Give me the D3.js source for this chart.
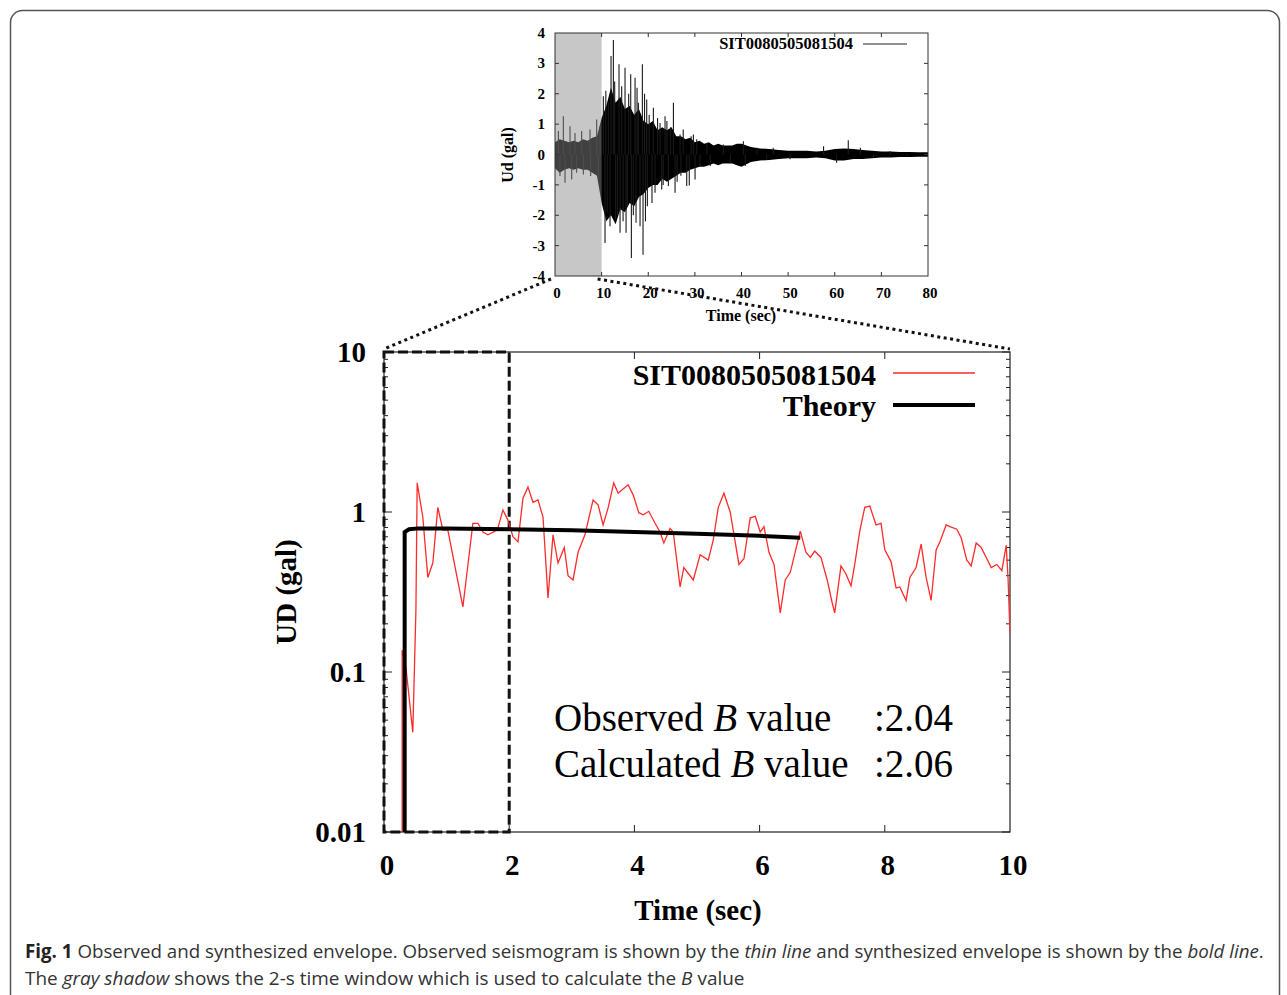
<!DOCTYPE html>
<html>
<head>
<meta charset="utf-8">
<style>
body { margin: 0; background: #fff; }
svg text { font-family: "Liberation Serif", "Times New Roman", serif; }
.cap { font-family: "Open Sans", sans-serif; }
</style>
</head>
<body>
<script src="https://d3js.org/d3.v7.min.js"></script>
<script>
// ---- main envelope chart data (log scale) ----
var obsTime = [0.29,0.29,0.35,0.46,0.51,0.53,0.62,0.70,0.78,0.86,
  0.94,1.02,1.26,1.42,1.50,1.58,1.66,1.81,1.90,1.98,
  2.06,2.14,2.22,2.30,2.38,2.46,2.54,2.62,2.70,2.78,
  2.88,2.94,3.02,3.10,3.21,3.34,3.42,3.50,3.58,3.67,
  3.74,3.90,3.98,4.07,4.14,4.23,4.33,4.41,4.47,4.57,
  4.62,4.73,4.79,4.94,5.05,5.18,5.26,5.34,5.43,5.53,
  5.67,5.75,5.85,5.93,6.01,6.07,6.15,6.23,6.33,6.41,
  6.49,6.65,6.74,6.81,6.88,6.98,7.08,7.16,7.20,7.30,
  7.38,7.46,7.52,7.60,7.68,7.76,7.86,7.94,8.00,8.10,
  8.18,8.24,8.34,8.40,8.50,8.58,8.66,8.74,8.82,8.88,
  8.98,9.04,9.15,9.22,9.31,9.38,9.46,9.54,9.62,9.70,
  9.79,9.87,9.94,9.97,10.0];
var obsAmp = [0.01,0.137,0.107,0.042,0.244,1.52,0.93,0.39,0.48,1.07,
  0.77,0.77,0.255,0.85,0.85,0.75,0.72,0.77,1.03,0.89,
  0.70,0.65,1.22,1.43,1.15,1.19,0.93,0.29,0.72,0.48,
  0.60,0.40,0.376,0.56,0.72,1.19,1.11,0.83,1.06,1.52,
  1.31,1.48,1.28,0.99,0.96,1.01,0.85,0.75,0.64,0.79,
  0.75,0.34,0.45,0.376,0.54,0.50,0.67,1.07,1.31,1.0,
  0.47,0.51,0.92,0.94,0.75,0.81,0.56,0.47,0.234,0.376,
  0.42,0.76,0.56,0.52,0.57,0.52,0.376,0.27,0.234,0.46,
  0.41,0.345,0.47,0.76,1.07,1.09,0.83,0.85,0.58,0.49,
  0.335,0.34,0.28,0.39,0.45,0.63,0.39,0.28,0.58,0.65,
  0.83,0.81,0.78,0.69,0.50,0.46,0.64,0.60,0.52,0.45,
  0.47,0.43,0.62,0.376,0.175];

var theoryTime = [0.33,0.33,0.40,0.55,1,2,3,4,5,6,6.65];
var theoryAmp  = [0.01,0.75,0.78,0.79,0.79,0.78,0.77,0.75,0.73,0.71,0.69];

var mainXTicks = [0,2,4,6,8,10];
var mainYTicks = [0.01,0.1,1,10];
var mainYLabels = ["0.01","0.1","1","10"];
var windowSec = [0,2];

// ---- seismogram (top) data ----
var coreTime  = [0,1,2,3,4,5,6,7,8,9,10,11,12,13,14,15,16,17,18,19,20,
  21,22,23,24,25,26,27,28,29,30,31,32,33,34,35,36,37,38,39,40,
  42,44,46,48,50,52,54,56,58,60,62,64,66,68,70,72,74,76,78,80];
var coreUpper = [0.4,0.5,0.45,0.4,0.45,0.4,0.5,0.45,0.55,0.6,1.2,1.6,2.2,1.7,1.9,1.5,1.6,1.3,1.5,1.1,1.0,
  1.1,0.8,0.9,0.8,0.9,0.6,0.6,0.5,0.55,0.4,0.45,0.35,0.4,0.3,0.35,0.3,0.3,0.3,0.35,0.35,
  0.25,0.2,0.18,0.15,0.12,0.12,0.12,0.1,0.12,0.18,0.2,0.18,0.15,0.12,0.1,0.1,0.08,0.08,0.07,0.07];
var coreLower = [-0.45,-0.6,-0.5,-0.45,-0.5,-0.45,-0.5,-0.5,-0.6,-0.7,-1.6,-2.2,-2.0,-2.3,-1.8,-1.9,-1.6,-1.7,-1.4,-1.3,-1.1,
  -1.0,-1.0,-0.8,-0.9,-0.8,-0.7,-0.6,-0.6,-0.5,-0.45,-0.4,-0.4,-0.35,-0.3,-0.35,-0.3,-0.3,-0.3,-0.35,-0.4,
  -0.25,-0.2,-0.18,-0.15,-0.12,-0.12,-0.12,-0.1,-0.12,-0.2,-0.2,-0.15,-0.15,-0.12,-0.1,-0.1,-0.08,-0.08,-0.07,-0.07];
var spikeTime = [0.72,1.07,1.79,2.15,3.22,3.58,4.29,4.65,5.72,6.08,7.51,7.65,8.94,9.3,9.66,
  10.37,10.73,10.9,11.2,11.44,11.8,12.02,12.52,12.8,13.02,13.4,13.73,13.95,14.3,14.6,15.02,15.24,15.52,15.8,
  16.24,16.38,16.8,17.17,17.38,17.6,17.88,18.24,18.74,18.88,19.2,19.4,19.67,19.81,20.2,20.8,
  21.1,21.46,22.0,22.53,22.89,23.2,23.6,24.0,24.32,24.8,25.4,25.75,26.2,26.82,27.0,27.5,28.25,28.8,29.2,29.68,
  30.04,30.4,31.1,32.6,33.3,36.1,37.6,40.4,40.8,43.3,45.4,46.8,50.4,57.6,60.4,62.9,65.5,68.3,71.9,75.5];
var spikeAmp = [0.77,-0.71,1.26,-0.93,0.93,-0.82,0.71,-0.6,0.77,-0.66,0.82,-0.71,1.15,-0.82,0.93,
  1.92,-2.91,2.1,-1.9,1.7,-2.36,3.24,3.77,2.4,-2.14,-2.0,2.97,-2.58,2.25,-2.2,2.86,-2.58,-1.7,2.0,
  2.64,-3.41,-2.0,2.53,-2.25,2.2,1.7,-2.36,2.97,-3.3,2.0,-2.2,1.81,-1.7,1.3,-1.6,
  1.54,-1.26,1.2,1.04,-1.15,-1.0,1.26,1.1,-1.04,0.9,1.7,-1.26,-0.9,0.66,-0.7,0.82,-1.04,-1.02,0.6,0.66,
  -0.82,0.5,-0.38,0.38,-0.38,0.33,-0.27,0.44,-0.38,0.22,-0.16,0.22,-0.16,0.27,-0.27,0.47,0.22,-0.11,0.11,-0.05];
var topXTicks = [0,10,20,30,40,50,60,70,80];
var topYTicks = [-4,-3,-2,-1,0,1,2,3,4];
var shadeSec = [0,10];

var stationName = "SIT0080505081504";

var W = 1287, H = 995;
var svg = d3.select("body").append("svg").attr("width", W).attr("height", H);

// card frame
svg.append("rect").attr("x", 10.5).attr("y", 10.5).attr("width", 1269).attr("height", 1010)
  .attr("rx", 12).style("fill", "none").style("stroke", "#555").style("stroke-width", 1.5);

// ================= TOP CHART =================
var xs = d3.scaleLinear().domain([0, 80]).range([555, 928]);
var ys = d3.scaleLinear().domain([-4, 4]).range([276, 33]);
var tp = svg.append("g");

tp.append("clipPath").attr("id", "clipTop").append("rect")
  .attr("x", xs(0)).attr("y", ys(4)).attr("width", xs(80) - xs(0)).attr("height", ys(-4) - ys(4));

var tg = tp.append("g").attr("clip-path", "url(#clipTop)");
var core = coreTime.map(function(t, i){ return [t, coreUpper[i], coreLower[i]]; });
tg.append("path").datum(core)
  .attr("d", d3.area().x(function(d){ return xs(d[0]); }).y0(function(d){ return ys(d[2]); }).y1(function(d){ return ys(d[1]); }))
  .style("fill", "#000");
tg.selectAll(".spike").data(spikeTime).enter().append("line")
  .attr("class", "spike")
  .attr("x1", function(d){ return xs(d); }).attr("x2", function(d){ return xs(d); })
  .attr("y1", ys(0)).attr("y2", function(d, i){ return ys(spikeAmp[i]); })
  .style("stroke", "#1a1a1a").style("stroke-width", 1.1);
// gray shadow (2-s window marker on top panel)
tg.append("rect").attr("x", xs(shadeSec[0])).attr("y", ys(4))
  .attr("width", xs(shadeSec[1]) - xs(shadeSec[0])).attr("height", ys(-4) - ys(4))
  .style("fill", "#898989").style("opacity", 0.47);

tp.append("rect").attr("x", xs(0)).attr("y", ys(4)).attr("width", xs(80) - xs(0)).attr("height", ys(-4) - ys(4))
  .style("fill", "none").style("stroke", "#333").style("stroke-width", 1);

// ticks inside
topXTicks.slice(1, -1).forEach(function(t){
  tp.append("line").attr("x1", xs(t)).attr("x2", xs(t)).attr("y1", ys(4)).attr("y2", ys(4) + 4).style("stroke", "#333");
  tp.append("line").attr("x1", xs(t)).attr("x2", xs(t)).attr("y1", ys(-4)).attr("y2", ys(-4) - 4).style("stroke", "#333");
});
topYTicks.slice(1, -1).forEach(function(v){
  tp.append("line").attr("x1", xs(0)).attr("x2", xs(0) + 4).attr("y1", ys(v)).attr("y2", ys(v)).style("stroke", "#333");
  tp.append("line").attr("x1", xs(80)).attr("x2", xs(80) - 4).attr("y1", ys(v)).attr("y2", ys(v)).style("stroke", "#333");
});

tp.selectAll(".tyl").data(topYTicks).enter().append("text")
  .attr("x", 545).attr("y", function(d){ return ys(d) + 5; })
  .attr("text-anchor", "end").style("font-size", "15px").style("font-weight", "bold")
  .text(function(d){ return d; });
tp.selectAll(".txl").data(topXTicks).enter().append("text")
  .attr("x", function(d){ return xs(d) + 2; }).attr("y", 298)
  .attr("text-anchor", "middle").style("font-size", "15px").style("font-weight", "bold")
  .text(function(d){ return d; });
tp.append("text").attr("x", 741).attr("y", 321).attr("text-anchor", "middle")
  .style("font-size", "16px").style("font-weight", "bold").text("Time (sec)");
tp.append("text").attr("transform", "translate(513,155) rotate(-90)").attr("text-anchor", "middle")
  .style("font-size", "16px").style("font-weight", "bold").text("Ud (gal)");
tp.append("text").attr("x", 853).attr("y", 49).attr("text-anchor", "end")
  .style("font-size", "16.5px").style("font-weight", "bold").text(stationName);
tp.append("line").attr("x1", 863).attr("x2", 907).attr("y1", 44).attr("y2", 44)
  .style("stroke", "#222").style("stroke-width", 1.2);

// ================= MAIN CHART =================
var x = d3.scaleLinear().domain([0, 10]).range([384, 1010]);
var y = d3.scaleLog().domain([0.01, 10]).range([832, 352]);
var g = svg.append("g");

g.append("clipPath").attr("id", "clipMain").append("rect")
  .attr("x", x(0)).attr("y", y(10)).attr("width", x(10) - x(0)).attr("height", y(0.01) - y(10));

g.append("rect").attr("x", x(0)).attr("y", y(10)).attr("width", x(10) - x(0)).attr("height", y(0.01) - y(10))
  .style("fill", "none").style("stroke", "#222").style("stroke-width", 1.2);

// x ticks top & bottom
mainXTicks.slice(1, -1).forEach(function(t){
  g.append("line").attr("x1", x(t)).attr("x2", x(t)).attr("y1", y(10)).attr("y2", y(10) + 7).style("stroke", "#222");
  g.append("line").attr("x1", x(t)).attr("x2", x(t)).attr("y1", y(0.01)).attr("y2", y(0.01) - 7).style("stroke", "#222");
});
// log ticks left & right
y.ticks().forEach(function(v){
  var major = Math.abs(Math.log10(v) - Math.round(Math.log10(v))) < 1e-9;
  var len = major ? 8 : 4;
  g.append("line").attr("x1", x(0)).attr("x2", x(0) + len).attr("y1", y(v)).attr("y2", y(v)).style("stroke", "#222");
  g.append("line").attr("x1", x(10)).attr("x2", x(10) - len).attr("y1", y(v)).attr("y2", y(v)).style("stroke", "#222");
});

g.selectAll(".myl").data(mainYTicks).enter().append("text")
  .attr("x", 366).attr("y", function(d){ return y(d) + 10; })
  .attr("text-anchor", "end").style("font-size", "29px").style("font-weight", "bold")
  .text(function(d, i){ return mainYLabels[i]; });
g.selectAll(".mxl").data(mainXTicks).enter().append("text")
  .attr("x", function(d){ return x(d) + 3; }).attr("y", 875)
  .attr("text-anchor", "middle").style("font-size", "29px").style("font-weight", "bold")
  .text(function(d){ return d; });
g.append("text").attr("x", 698).attr("y", 920).attr("text-anchor", "middle")
  .style("font-size", "29px").style("font-weight", "bold").text("Time (sec)");
g.append("text").attr("transform", "translate(296,592) rotate(-90)").attr("text-anchor", "middle")
  .style("font-size", "29px").style("font-weight", "bold").text("UD (gal)");

// 2-s window
g.append("rect").attr("x", x(windowSec[0])).attr("y", y(10)).attr("width", x(windowSec[1]) - x(windowSec[0]))
  .attr("height", y(0.01) - y(10))
  .style("fill", "none").style("stroke", "#111").style("stroke-width", 3).style("stroke-dasharray", "10,4");

var lg = g.append("g").attr("clip-path", "url(#clipMain)");
var obs = obsTime.map(function(t, i){ return [t, obsAmp[i]]; });
var theory = theoryTime.map(function(t, i){ return [t, theoryAmp[i]]; });
var line = d3.line().x(function(d){ return x(d[0]); }).y(function(d){ return y(d[1]); });
lg.append("path").datum(obs).attr("d", line)
  .style("fill", "none").style("stroke", "#ff2a2a").style("stroke-width", 1.3);
lg.append("path").datum(theory).attr("d", line)
  .style("fill", "none").style("stroke", "#000").style("stroke-width", 4);

// legend
g.append("text").attr("x", 876).attr("y", 385).attr("text-anchor", "end")
  .style("font-size", "30px").style("font-weight", "bold").text(stationName);
g.append("line").attr("x1", 893).attr("x2", 975).attr("y1", 373).attr("y2", 373)
  .style("stroke", "#ff2a2a").style("stroke-width", 1.3);
g.append("text").attr("x", 876).attr("y", 416).attr("text-anchor", "end")
  .style("font-size", "30px").style("font-weight", "bold").text("Theory");
g.append("line").attr("x1", 893).attr("x2", 975).attr("y1", 405).attr("y2", 405)
  .style("stroke", "#000").style("stroke-width", 4);

// B value annotation
var notes = [["Observed ", " value", ":2.04", 731], ["Calculated ", " value", ":2.06", 777]];
notes.forEach(function(n){
  var t = g.append("text").attr("x", 554).attr("y", n[3]).style("font-size", "39px");
  t.append("tspan").text(n[0]);
  t.append("tspan").style("font-style", "italic").text("B");
  t.append("tspan").text(n[1]);
  g.append("text").attr("x", 874).attr("y", n[3]).style("font-size", "39px").text(n[2]);
});

// dotted zoom connectors
[[[0, -4], [0, 10]], [[10, -4], [10, 10]]].forEach(function(p){
  svg.append("line")
    .attr("x1", xs(p[0][0]) - 4).attr("y1", ys(p[0][1]) + 3)
    .attr("x2", x(p[1][0])).attr("y2", y(p[1][1]) - 3)
    .style("stroke", "#111").style("stroke-width", 3).style("stroke-dasharray", "3,3.5");
});

// caption
var cap1 = [["Fig. 1", "b"], [" Observed and synthesized envelope. Observed seismogram is shown by the ", ""],
  ["thin line", "i"], [" and synthesized envelope is shown by the ", ""], ["bold line", "i"], [".", ""]];
var cap2 = [["The ", ""], ["gray shadow", "i"], [" shows the 2-s time window which is used to calculate the ", ""],
  ["B", "i"], [" value", ""]];
function caption(parts, yy, targetW){
  var t = svg.append("text").attr("class", "cap").attr("x", 0).attr("y", 0)
    .style("font-size", "19px").style("fill", "#333");
  parts.forEach(function(p){
    var s = t.append("tspan").text(p[0]);
    if (p[1] === "b") s.style("font-weight", "bold").style("fill", "#222");
    if (p[1] === "i") s.style("font-style", "italic");
  });
  var w = t.node().getComputedTextLength();
  t.attr("transform", "translate(25," + yy + ") scale(" + (targetW / w) + ",1)");
}
caption(cap1, 958, 1240);
caption(cap2, 985, 720);
</script>
</body>
</html>
